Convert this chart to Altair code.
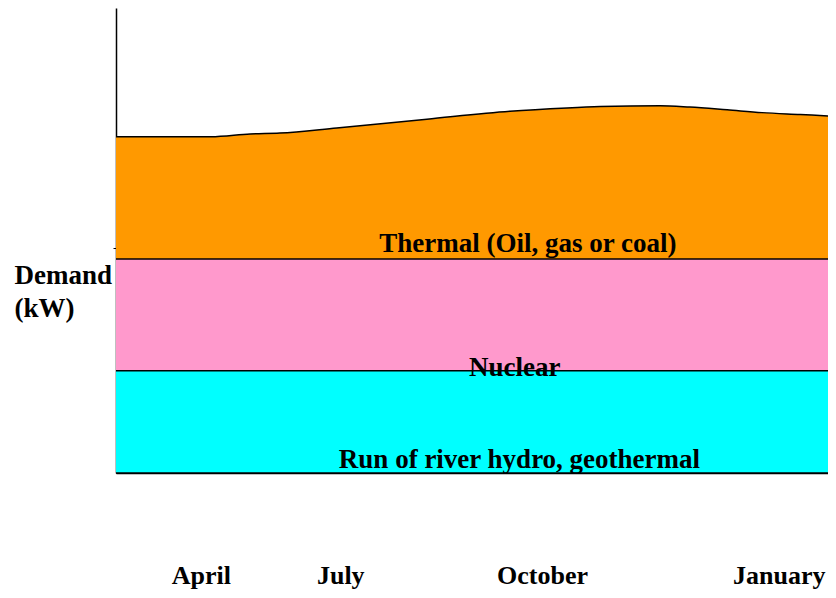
import altair as alt
import pandas as pd

# Top of thermal band (seasonal demand curve), month index 0..12 along the axis
curve_month = [0, 1.60, 2.26, 2.76, 3.72, 5.24, 6.64, 7.60, 8.16, 9.17, 9.67, 10.30, 10.89, 11.53, 12.0]
curve_demand = [72.3, 72.3, 72.9, 73.1, 74.2, 76.1, 77.8, 78.5, 78.8, 79.0, 78.7, 78.1, 77.5, 77.1, 76.8]

band_names = ["Run of river hydro, geothermal", "Nuclear", "Thermal (Oil, gas or coal)"]
band_low = [0, 22, 46]
band_high = [22, 46, None]
band_colors = ["#00FFFF", "#FF99CC", "#FF9900"]
label_month = [6.80, 6.72, 6.94]
label_demand = [1.1, 20.9, 47.5]

month_names = ["April", "July", "October", "January"]
month_pos = [1.43, 3.78, 7.18, 11.17]

FONT = "Liberation Serif"

xscale = alt.Scale(domain=[0, 12], nice=False, zero=False)
yscale = alt.Scale(domain=[0, 100], nice=False)

label_expr = " : ".join(
    f"datum.value == {p} ? '{n}'" for p, n in zip(month_pos, month_names)
) + " : ''"

bands = pd.DataFrame({
    "name": band_names[:2],
    "low": band_low[:2],
    "high": band_high[:2],
    "x0": [0, 0],
    "x1": [12, 12],
})
curve = pd.DataFrame({"month": curve_month, "demand": curve_demand, "base": band_low[2]})
labels = pd.DataFrame({"name": band_names, "month": label_month, "demand": label_demand})
rules = pd.DataFrame({"demand": band_low})

color_scale = alt.Scale(domain=band_names, range=band_colors)

rect = alt.Chart(bands).mark_rect().encode(
    x=alt.X("x0:Q", scale=xscale,
            axis=alt.Axis(values=month_pos, labelExpr=label_expr, title=None, ticks=False,
                          grid=False, domain=True, domainColor="black", domainWidth=1.5,
                          labelFont=FONT, labelFontSize=26, labelFontWeight="bold",
                          labelColor="black", labelBaseline="alphabetic", labelPadding=110,
                          labelAngle=0, labelAlign="center", labelOverlap=False)),
    x2="x1:Q",
    y=alt.Y("low:Q", scale=yscale,
            axis=alt.Axis(values=[48.4], labels=False, tickSize=3, tickColor="black", grid=False,
                          domainColor="black", domainWidth=1.5,
                          title=["Demand", "(kW)"], titleAngle=0, titleAlign="left",
                          titleBaseline="alphabetic", titleX=-102, titleY=275,
                          titleLineHeight=33, titleFont=FONT, titleFontSize=27,
                          titleFontWeight="bold", titleColor="black")),
    y2="high:Q",
    color=alt.Color("name:N", scale=color_scale, legend=None),
)

area = alt.Chart(curve).mark_area(interpolate="monotone", color="#FF9900").encode(
    x=alt.X("month:Q", scale=xscale),
    y=alt.Y("demand:Q", scale=yscale),
    y2="base:Q",
)

line = alt.Chart(curve).mark_line(interpolate="monotone", color="black", strokeWidth=1.5).encode(
    x=alt.X("month:Q", scale=xscale),
    y=alt.Y("demand:Q", scale=yscale),
)

rule = alt.Chart(rules).mark_rule(color="black", strokeWidth=1.5).encode(
    y=alt.Y("demand:Q", scale=yscale),
)

text = alt.Chart(labels).mark_text(
    font=FONT, fontSize=27, fontWeight="bold", color="black",
    align="center", baseline="alphabetic"
).encode(
    x=alt.X("month:Q", scale=xscale),
    y=alt.Y("demand:Q", scale=yscale),
    text="name:N",
)

chart = alt.layer(rect, area, line, rule, text).properties(
    width=712, height=465,
    autosize=alt.AutoSizeParams(type="none"),
    padding={"left": 108, "top": 0, "right": 0, "bottom": 116},
    background="white",
).configure_view(strokeWidth=0)

chart.save("out.html", embed_options={"renderer": "svg", "actions": False})
